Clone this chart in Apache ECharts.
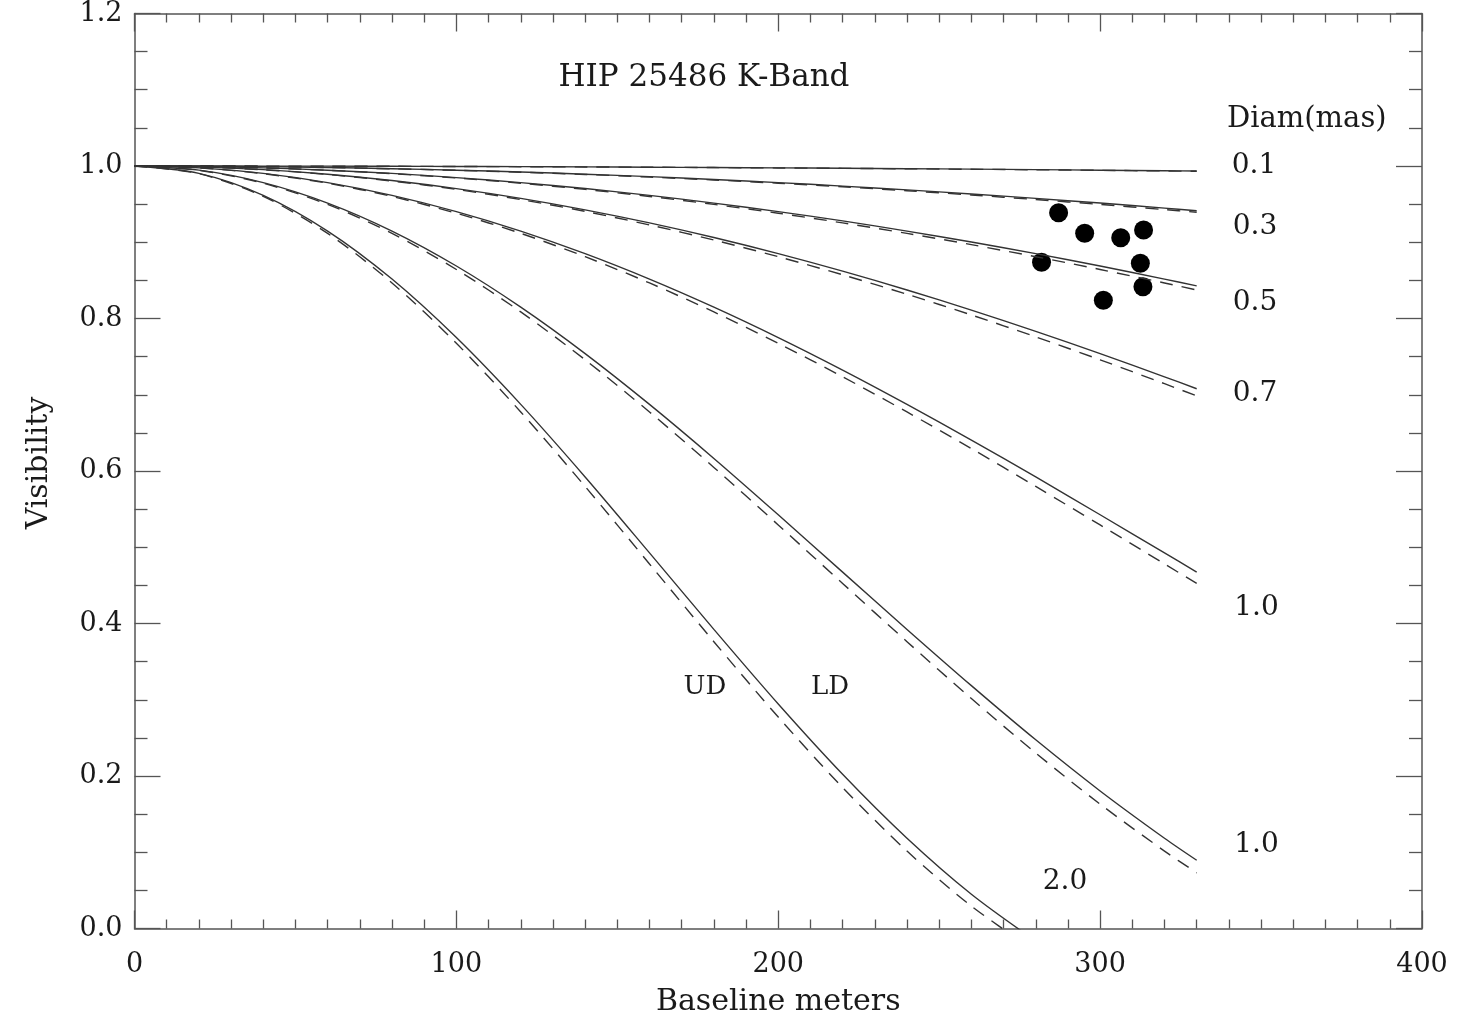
<!DOCTYPE html>
<html>
<head>
<meta charset="utf-8">
<script src="https://cdn.jsdelivr.net/npm/echarts@6/dist/echarts.min.js"></script>
<style>
  html, body { margin: 0; padding: 0; background: #fff; }
  #chart { width: 1463px; height: 1025px; }
</style>
</head>
<body>
<div id="chart"></div>
<script>
// Baselines (m) at which the model curves were read
const baselines = [0,20,40,60,80,100,120,140,160,180,200,220,240,260,280,300,320,330];

// Solid curves (LD) and dashed curves (UD), visibility per diameter (mas)
const solid01 = [1,0.99998,0.9999,0.99978,0.99961,0.99939,0.99912,0.9988,0.99844,0.99802,0.99756,0.99705,0.99649,0.99588,0.99522,0.99451,0.99376,0.99336];
const dashed01 = [1,0.99997,0.9999,0.99977,0.9996,0.99937,0.99909,0.99876,0.99838,0.99795,0.99747,0.99694,0.99636,0.99573,0.99504,0.99431,0.99352,0.99311];
const solid03 = [1,0.99978,0.99912,0.99802,0.99649,0.99452,0.99211,0.98927,0.98601,0.98231,0.97819,0.97366,0.9687,0.96333,0.95756,0.95138,0.94481,0.94137];
const dashed03 = [1,0.99977,0.99909,0.99795,0.99636,0.99432,0.99183,0.98889,0.9855,0.98167,0.9774,0.9727,0.96757,0.96201,0.95603,0.94964,0.94284,0.93928];
const solid05 = [1,0.99939,0.99756,0.99452,0.99027,0.98482,0.97819,0.9704,0.96145,0.95138,0.94021,0.92796,0.91466,0.90035,0.88507,0.86884,0.85171,0.84281];
const dashed05 = [1,0.99937,0.99748,0.99432,0.98992,0.98427,0.9774,0.96933,0.96007,0.94964,0.93807,0.9254,0.91165,0.89686,0.88106,0.86429,0.8466,0.83742];
const solid07 = [1,0.9988,0.99522,0.98927,0.98099,0.9704,0.95756,0.94253,0.92538,0.9062,0.88507,0.86209,0.83738,0.81104,0.78319,0.75398,0.72352,0.7079];
const dashed07 = [1,0.99876,0.99505,0.98889,0.9803,0.96933,0.95603,0.94048,0.92274,0.9029,0.88106,0.85733,0.83181,0.80464,0.77594,0.74585,0.71452,0.6985];
const solid10 = [1,0.99756,0.99027,0.97819,0.96145,0.94021,0.91466,0.88507,0.85171,0.8149,0.77498,0.73234,0.68736,0.64056,0.5922,0.54262,0.49264,0.4674];
const dashed10 = [1,0.99748,0.98992,0.9774,0.96007,0.93807,0.91165,0.88106,0.8466,0.80862,0.76748,0.72358,0.67741,0.6294,0.57972,0.52924,0.47812,0.45255];
const solid15 = [1,0.99452,0.97819,0.95138,0.91466,0.86884,0.8149,0.75398,0.68736,0.61651,0.54262,0.4674,0.39226,0.31852,0.24746,0.1804,0.11836,0.0895];
const dashed15 = [1,0.99432,0.9774,0.94964,0.91165,0.86429,0.80862,0.74585,0.67741,0.60471,0.52924,0.45255,0.37613,0.30153,0.23011,0.16309,0.10152,0.07305];
const solid20 = [1,0.99027,0.96145,0.91466,0.85171,0.77498,0.68736,0.5922,0.49264,0.39226,0.29443,0.20224,0.11836,0.04491,-0.01639,null,null,null];
const dashed20 = [1,0.98992,0.96007,0.91165,0.8466,0.76748,0.67741,0.57972,0.47812,0.37613,0.2773,0.18488,0.10152,0.02939,-0.02983,null,null,null];

// Measured visibilities (HIP 25486)
const obsBaseline = [287.1,295.2,306.4,313.5,281.8,312.5,313.3,301.0];
const obsVis      = [0.9388,0.9117,0.906,0.916,0.8737,0.8724,0.8417,0.8239];

// Tick labels
const yTickLabels = ['0.0','0.2','0.4','0.6','0.8','1.0','1.2'];

// Annotations: text, data x, data y, font size
const annoText = ['Diam(mas)','0.1','0.3','0.5','0.7','1.0','1.0','2.0','UD','LD'];
const annoX    = [364.2,347.8,348.1,348.1,348.1,348.6,348.6,289.1,177.2,216.1];
const annoY    = [1.061,1.001,0.921,0.821,0.702,0.421,0.110,0.061,0.317,0.317];
const annoSize = [29,28,28,28,28,28,28,28,26,26];

const FONT = "'DejaVu Serif', 'Liberation Serif', serif";
const INK = '#1a1a1a';
const LINE = '#333';

function pairs(vals) {
  const out = [];
  for (let i = 0; i < baselines.length; i++) {
    if (vals[i] !== null) out.push([baselines[i], vals[i]]);
  }
  return out;
}

const curves = [
  [solid01, dashed01], [solid03, dashed03], [solid05, dashed05], [solid07, dashed07],
  [solid10, dashed10], [solid15, dashed15], [solid20, dashed20]
];
const diamNames = ['0.1','0.3','0.5','0.7','1.0','1.5','2.0'];

const series = [];
curves.forEach((pair, i) => {
  series.push({
    name: 'LD ' + diamNames[i], type: 'line', data: pairs(pair[0]),
    smooth: 0.3, symbol: 'none', clip: true, silent: true,
    lineStyle: { color: LINE, width: 1.4, type: 'solid' }
  });
  series.push({
    name: 'UD ' + diamNames[i], type: 'line', data: pairs(pair[1]),
    smooth: 0.3, symbol: 'none', clip: true, silent: true,
    lineStyle: { color: LINE, width: 1.4, type: [13, 9] }
  });
});

series.push({
  name: 'Observed', type: 'scatter',
  data: obsBaseline.map((b, i) => [b, obsVis[i]]),
  symbol: 'circle', symbolSize: 19,
  itemStyle: { color: '#000', opacity: 1 }
});

series.push({
  name: 'labels', type: 'scatter', silent: true,
  data: annoText.map((t, i) => ({
    value: [annoX[i], annoY[i]],
    label: { formatter: t, fontSize: annoSize[i] }
  })),
  symbol: 'circle', symbolSize: 1,
  itemStyle: { color: 'rgba(0,0,0,0)', opacity: 1 },
  label: { show: true, position: 'inside', color: INK, opacity: 1, fontFamily: FONT }
});

const xCommon = {
  type: 'value', min: 0, max: 400, interval: 100,
  splitLine: { show: false },
  axisLine: { show: true, onZero: false, lineStyle: { color: '#555', width: 1.5 } },
  axisTick: { show: true, inside: true, length: 18, lineStyle: { color: '#555', width: 1.3 } },
  minorTick: { show: true, splitNumber: 10, length: 9, lineStyle: { color: '#555', width: 1.3 } },
  minorSplitLine: { show: false }
};
const yCommon = {
  type: 'value', min: 0, max: 1.2, interval: 0.2,
  splitLine: { show: false },
  axisLine: { show: true, onZero: false, lineStyle: { color: '#555', width: 1.5 } },
  axisTick: { show: true, inside: true, length: 26, lineStyle: { color: '#555', width: 1.3 } },
  minorTick: { show: true, splitNumber: 4, length: 13, lineStyle: { color: '#555', width: 1.3 } },
  minorSplitLine: { show: false }
};

const chart = echarts.init(document.getElementById('chart'), null, { renderer: 'canvas' });
chart.setOption({
  animation: false,
  backgroundColor: '#fff',
  title: {
    text: 'HIP 25486 K-Band',
    left: 699, top: 57, textAlign: 'center',
    textStyle: { fontFamily: FONT, fontSize: 31, fontWeight: 'normal', color: INK }
  },
  grid: { left: 134.5, right: 41, top: 13.5, bottom: 96.5, containLabel: false },
  xAxis: [
    Object.assign({}, xCommon, {
      position: 'bottom',
      axisLabel: { show: true, margin: 23, fontSize: 27, fontFamily: FONT, color: INK },
      name: 'Baseline meters', nameLocation: 'middle', nameGap: 59,
      nameTextStyle: { fontFamily: FONT, fontSize: 30, color: INK }
    }),
    Object.assign({}, xCommon, { position: 'top', axisLabel: { show: false } })
  ],
  yAxis: [
    Object.assign({}, yCommon, {
      position: 'left',
      axisLabel: {
        show: true, margin: 12, fontSize: 27, fontFamily: FONT, color: INK,
        formatter: function (v) { return yTickLabels[Math.round(v / 0.2)]; }
      },
      name: 'Visibility', nameLocation: 'middle', nameGap: 80,
      nameTextStyle: { fontFamily: FONT, fontSize: 30, color: INK, padding: [0, 0, 0, 16] }
    }),
    Object.assign({}, yCommon, { position: 'right', axisLabel: { show: false } })
  ],
  series: series
});
</script>
</body>
</html>
